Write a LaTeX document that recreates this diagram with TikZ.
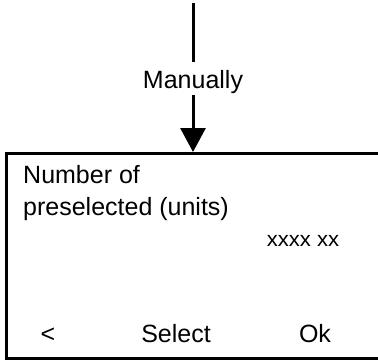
\documentclass[tikz,border=0pt]{standalone}
\usepackage{fontspec}
\setmainfont{Liberation Sans}
\usetikzlibrary{arrows.meta}
\begin{document}
\begin{tikzpicture}[x=1pt,y=-1pt,
  lbl/.style={font=\fontsize{25}{30}\selectfont, inner sep=0pt},
  small/.style={font=\fontsize{21}{24}\selectfont, inner sep=0pt},
  screenbox/.style={draw, line width=2.5pt, anchor=north west, minimum width=400pt, minimum height=205pt, inner sep=0pt},
  flow/.style={line width=3pt},
  tip/.style={-{Triangle[width=25pt,length=24pt]}}
]
\useasboundingbox (0,0) rectangle (378,360);
\node[screenbox] (screen) at (5,152) {};
\coordinate (start) at (193,3);
\node[lbl, text height=26pt, text depth=7pt, inner ysep=0pt] (man) at (193,88) [anchor=base] {Manually};
\draw[flow] (start) -- (man.north);
\draw[flow, tip] (man.south) -- (start |- screen.north);
\node[lbl, anchor=base west] (l1) at (23,183) {Number of};
\node[lbl, anchor=base west] (l2) at (23,215) {preselected (units)};
\node[small, anchor=base] (val) at (303,246) {\scalebox{1.05}[1]{xxxx xx}};
\node[lbl, anchor=base] (back) at (48,342) {<};
\node[lbl, anchor=base] (sel) at (176,342) {Select};
\node[lbl, anchor=base] (ok) at (315,342) {Ok};
\end{tikzpicture}
\end{document}
